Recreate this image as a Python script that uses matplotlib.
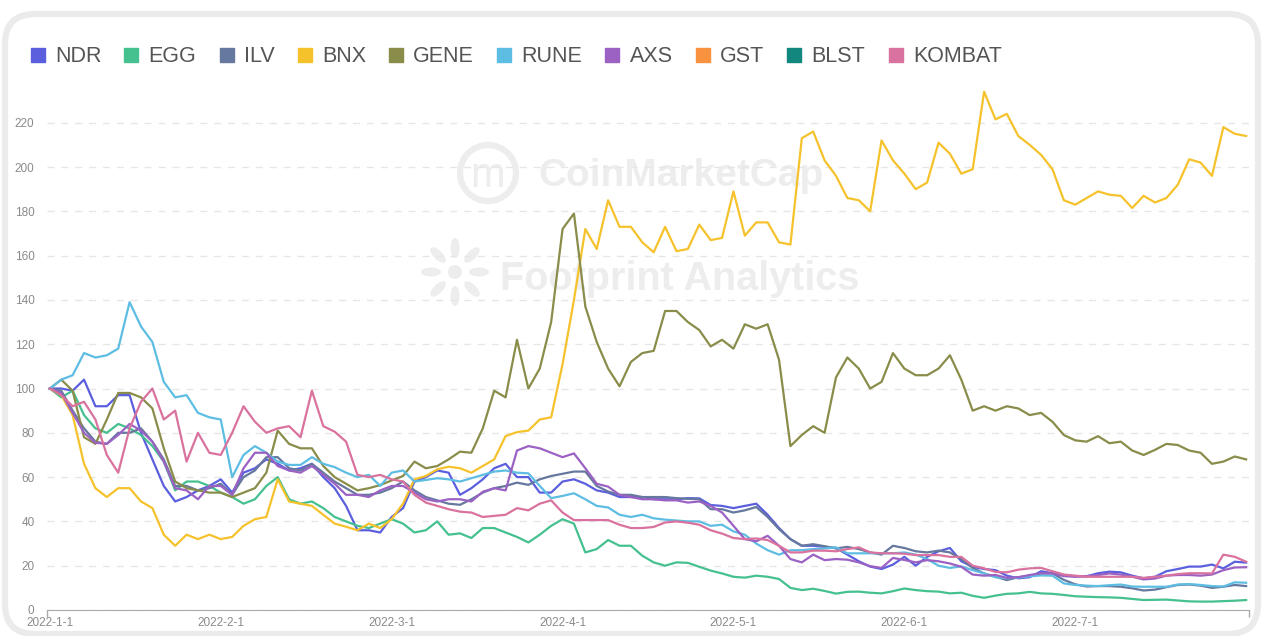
import numpy as np
import matplotlib
matplotlib.use('Agg')
import matplotlib.patches as patches
import matplotlib.transforms as transforms
from matplotlib import pyplot as plt
from matplotlib.lines import Line2D

plt.rcParams['font.family'] = ['Liberation Sans', 'DejaVu Sans']

# one sample every second day, day 0 = 2022-1-1
days = np.arange(0, 211, 2)
month_days = [0, 30, 60, 90, 120, 150, 180]
month_labels = ['2022-1-1', '2022-2-1', '2022-3-1', '2022-4-1', '2022-5-1', '2022-6-1', '2022-7-1']
y_ticks = np.arange(0, 221, 20)

names = ['NDR', 'EGG', 'ILV', 'BNX', 'GENE', 'RUNE', 'AXS', 'GST', 'BLST', 'KOMBAT']
colours = ['#5b5fde', '#45c08f', '#66789e', '#f6c22c', '#8a8c4a',
           '#5ebde3', '#9b62c4', '#f8923f', '#11877d', '#d9729e']

# price index (2022-1-1 = 100)
ndr = [100, 100, 99, 104, 92, 92, 97, 97, 80, 68, 56, 49, 51, 54, 56, 59, 53, 62, 64, 68, 66, 63, 64, 66, 60, 55, 47, 36, 36,
       35, 42, 46, 58, 60, 63, 62, 52, 55, 59, 64, 66, 60, 60, 53, 53, 58, 59, 57, 54, 53, 51, 51, 51, 50, 50, 50,
       50.5, 50.4, 47.4, 47, 46, 47, 48, 43, 37, 32, 29, 29, 28.5, 28, 25, 22, 19.6, 18.5, 20.5, 24, 20, 24, 26.5, 28,
       22, 19.5, 18.5, 18, 15.5, 14.3, 14.8, 17.5, 16.6, 15.8, 15.2, 15.2, 16.6, 17.3, 17, 15.5, 14.3, 15, 17.5, 18.5,
       19.6, 19.6, 20.5, 18.8, 21.8, 21.4]
egg = [100, 96, 99, 88, 82, 80, 84, 82, 79, 74, 67, 54, 58, 58, 56, 53, 51, 48, 50, 56, 60, 50, 48, 49, 46, 42, 40, 38, 37,
       39, 41, 39, 35, 36, 40, 34, 34.6, 32.5, 37, 37, 35, 33, 30.5, 34, 38, 41, 39, 26, 27.5, 31.6, 29, 29, 24.5, 21.5, 20, 21.5,
       21.3, 19.5, 17.8, 16.5, 15, 14.6, 15.5, 15, 14, 10, 9, 9.6, 8.6, 7.4, 8.2, 8.3, 7.8, 7.5, 8.5, 9.7, 9, 8.5, 8.3, 7.5,
       7.8, 6.4, 5.5, 6.5, 7.3, 7.5, 8.2, 7.5, 7.3, 6.8, 6.2, 6, 5.8, 5.7, 5.5, 5, 4.5, 4.6, 4.7, 4.3, 3.9, 3.8, 3.8, 4, 4.2, 4.5]
ilv = [100, 99, 90, 82, 76, 75, 80, 80, 82, 76, 68, 56, 56, 54, 55, 57, 52, 60, 63, 69, 69, 64, 63, 66, 62, 58, 55, 52, 52,
       53, 55, 58, 54, 51, 49.5, 48, 47.5, 50, 53, 55, 56, 57.5, 56.5, 59, 60.5, 61.5, 62.5, 62.5, 56, 53.5, 52, 52, 51, 51, 51, 50.5,
       50.2, 50, 45.5, 45.5, 44, 45, 46.5, 42, 36.5, 32, 29, 29.7, 28.8, 27.8, 28.5, 27.5, 26, 25, 29, 28, 26.5, 26, 26.8, 26,
       23, 19, 16.5, 15, 13.5, 14.8, 15.5, 16.5, 16.6, 13.6, 11.6, 10.6, 10.8, 10.8, 10.5, 9.8, 8.8, 9.2, 10.3, 11.3,
       11.5, 11, 10, 10.5, 11.3, 10.8]
bnx = [100, 97, 88, 66, 55, 51, 55, 55, 49, 46, 34, 29, 34, 32, 34, 32, 33, 38, 41, 42, 59, 49, 48, 47, 43, 39, 37.6, 36, 39,
       37, 41, 48, 59, 60.5, 63.5, 64.7, 64, 62, 65, 68, 78.5, 80.3, 81, 86, 87, 111, 140, 172, 163, 185, 173, 173, 166, 161.5, 173, 162,
       163, 174, 167, 168, 189, 169, 175, 175, 166, 165, 213, 216, 203, 196, 186, 185, 180, 212, 203, 197, 190, 193, 211, 206,
       197, 199, 234, 221.5, 224, 214, 210, 205.5, 199, 185, 183, 186, 189, 187.5, 187, 181.5, 187, 184, 186, 192,
       203.5, 202, 196, 218, 215, 214]
gene = [100, 104, 99, 78, 75, 86, 98, 98, 96, 91, 73, 58, 55, 54, 53, 53, 51, 53, 55, 62, 81, 75, 73, 73, 65, 60, 57, 54, 55,
        56.4, 58.5, 60.5, 67, 64, 65, 68, 71.5, 71, 82, 99, 96, 122, 100, 109, 130, 172, 179, 137, 121, 109, 101, 112, 116, 117, 135, 135,
        130, 126.4, 119, 122, 118, 129, 127, 129, 113, 74, 79, 83, 80, 105, 114, 109, 100, 103, 116, 109, 106, 106, 109, 115,
        104, 90, 92, 90, 92, 91, 88, 89, 85, 79, 76.6, 76, 78.5, 75.3, 76, 72, 70, 72.3, 75, 74.5,
        72, 71, 66, 67, 69.3, 68]
rune = [100, 104, 106, 116, 114, 115, 118, 139, 128, 121, 103, 96, 97, 89, 87, 86, 60, 70, 74, 71, 67, 65.5, 65.5, 69, 66, 64.5, 62, 60, 61,
        56, 62, 63, 58, 58.7, 59.5, 59, 58, 59.5, 61, 62.5, 63, 62, 61.7, 56, 50.5, 51.5, 52.7, 50, 47, 46.3, 43, 42, 43, 41.4, 40.8, 40.4,
        40, 40, 38, 38.5, 35.5, 34, 30, 27, 25, 27, 27, 27.5, 27.8, 28.3, 25.6, 25.6, 25.6, 25.6, 25.6, 26, 25, 23, 20, 19,
        19.7, 18, 16.5, 14.8, 14.3, 14.6, 15.2, 15.6, 15.5, 12, 11.3, 11, 10.8, 11.2, 11.5, 10.6, 10.5, 10.5, 10.5, 11.5,
        11.7, 11.3, 10.8, 10.6, 12.5, 12.3]
axs = [100, 98, 89, 80, 75.5, 75, 79, 84, 81, 76, 67, 55, 54, 50, 56, 56, 52, 64, 71, 71, 65, 63, 62, 65, 61, 57, 52, 52, 51,
       54, 56, 56, 53, 50, 49, 50, 50, 49, 53.4, 55, 54, 72, 74, 73, 71, 69, 70.7, 64, 57, 55.7, 52, 51, 50, 50, 49.5, 49.5,
       48.5, 49, 47, 44, 38, 32, 31, 33.5, 29, 23, 21.5, 25, 22.5, 23, 22.7, 21.5, 19.8, 19, 23.5, 22.6, 21.5, 22.5, 22, 21,
       19.5, 16, 15.5, 15.8, 14.5, 14.8, 15.8, 16.6, 16.5, 15.3, 15, 15.3, 15.8, 16.5, 16, 15, 13.8, 14.2, 15.5, 15.8,
       15.8, 15.5, 16, 18, 19.2, 19.3]
gst = []  # no line visible for GST
blst = []  # no line visible for BLST
kombat = [100, 97, 92, 94, 86, 70, 62, 82, 94, 100, 86, 90, 67, 80, 71, 70, 80, 92, 85, 80, 82, 83, 78, 99, 83, 80.5, 76, 61, 60,
          61, 59, 58, 52, 48.5, 47, 45.5, 44.4, 44, 42, 42.5, 43, 46, 45, 48, 49.5, 44, 40.6, 40.6, 40.6, 40.6, 38.5, 37, 37, 37.5, 39.5, 40,
          39.4, 38.5, 36, 34.5, 32.5, 32, 32.3, 31.6, 29, 26, 26, 26.8, 26.8, 26.5, 27.5, 28.3, 26, 25.6, 25.6, 25.4, 24.8, 24.8, 24.8, 24,
          24, 20, 18.8, 17.2, 17, 18.2, 18.8, 19, 17.5, 16, 15.5, 15, 15, 15, 15, 15, 14.5, 15, 15.5, 16.2,
          16.6, 16.6, 16.5, 25, 24, 21.8]

series = [ndr, egg, ilv, bnx, gene, rune, axs, gst, blst, kombat]


def draw_card(fig, h=636):
    # white rounded panel with a soft grey rim, pixel units from the lower left corner
    px = transforms.Affine2D().scale(1 / fig.dpi) + fig.dpi_scale_trans
    card = patches.FancyBboxPatch((5, 2), 1253, h - 16, boxstyle='round,pad=0,rounding_size=30',
                                  transform=px, facecolor='white', edgecolor='#ebebeb', linewidth=4.5, zorder=-3)
    fig.add_artist(card)
    return px


def draw_watermarks(fig, px, h=636, grey='#ededed'):
    # coinmarketcap ring + name
    fig.add_artist(patches.Circle((488, h - 173), 28, transform=px, fill=False, edgecolor=grey, linewidth=4.5, zorder=-2))
    fig.text(488, h - 176, 'm', transform=px, ha='center', va='center', fontsize=30, color=grey, zorder=-2)
    fig.text(538, h - 176, 'CoinMarketCap', transform=px, ha='left', va='center', fontsize=28,
             fontweight='bold', color=grey, zorder=-2)
    # footprint sun: petals around a dot
    cx, cy = 455, h - 272
    for ang in np.arange(0, 360, 45):  # petal every 45 degrees
        t = np.radians(ang)
        fig.add_artist(patches.Ellipse((cx + 24 * np.cos(t), cy + 24 * np.sin(t)), 20, 9, angle=ang,
                                       transform=px, facecolor=grey, edgecolor='none', zorder=-2))
    fig.add_artist(patches.Circle((cx, cy), 7, transform=px, facecolor=grey, edgecolor='none', zorder=-2))
    fig.text(500, h - 279, 'Footprint Analytics', transform=px, ha='left', va='center', fontsize=28.5,
             fontweight='bold', color=grey, zorder=-2)


def plot_lines(ax):
    for name, vals, colour in zip(names, series, colours):
        if not vals:
            continue
        ax.plot(days, vals, color=colour, linewidth=1.6, label=name, solid_joinstyle='round')
    # axis styling
    ax.set_xlim(-0.5, 210.5)
    ax.set_ylim(0, 235)
    ax.set_yticks(y_ticks)
    ax.set_xticks(month_days)
    ax.set_xticklabels(month_labels)
    ax.set_xticks([-0.5, 210.5], minor=True)
    ax.tick_params(axis='y', length=0, pad=9, labelsize=8.5, labelcolor='#8a8a8a')
    ax.tick_params(axis='x', which='major', length=0, pad=5, labelsize=8.5, labelcolor='#8a8a8a')
    ax.tick_params(axis='x', which='minor', length=5, width=1, color='#aaaaaa')
    ax.yaxis.grid(True, color='#e6e6e6', linestyle=(0, (5, 5)), linewidth=1)
    ax.set_axisbelow(True)
    for side in ['left', 'top', 'right']:
        ax.spines[side].set_visible(False)
    ax.spines['bottom'].set_color('#aaaaaa')


fig = plt.figure(figsize=(12.64, 6.36), dpi=100, facecolor='white')
px = draw_card(fig)
draw_watermarks(fig, px)

ax = fig.add_axes([47 / 1264, 26 / 636, 1202 / 1264, 520.5 / 636])
ax.patch.set_alpha(0)
plot_lines(ax)

# legend across the top, square swatches
handles = [Line2D([], [], marker='s', linestyle='none', color=c, markersize=10.5) for c in colours]
fig.legend(handles, names, loc='center left', bbox_to_anchor=(30 / 1264, 1 - 57 / 636), ncol=10, frameon=False,
           fontsize=15.5, labelcolor='#555555', handlelength=0.7, handletextpad=0.45, columnspacing=1.05,
           borderpad=0, borderaxespad=0)

fig.savefig('out.png', dpi=100, facecolor=fig.get_facecolor())
